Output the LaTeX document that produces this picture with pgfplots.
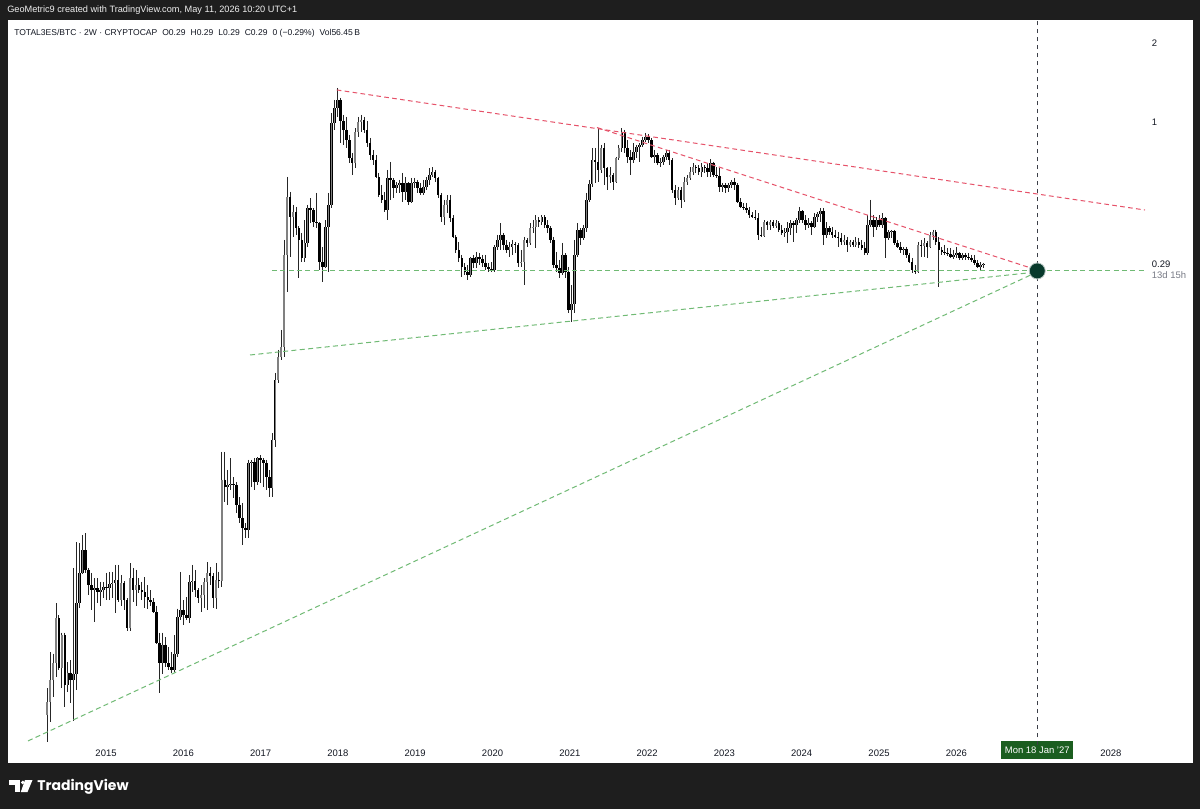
\documentclass[border=0pt]{standalone}
\usepackage{pgfplots}
\pgfplotsset{compat=1.18}
\usepackage{pgfplotstable}
\usepackage{fontspec}
\setmainfont{Liberation Sans}
\newfontfamily\logofont{Poppins}
\definecolor{bg}{RGB}{30,30,30}
\definecolor{tvtext}{RGB}{19,23,34}
\definecolor{tvgray}{RGB}{120,123,134}
\definecolor{redline}{RGB}{230,82,105}
\definecolor{greenline}{RGB}{112,186,116}
\definecolor{vline}{RGB}{60,63,72}
\definecolor{datebox}{RGB}{27,94,32}
\definecolor{dot}{RGB}{8,58,44}
\definecolor{upgray}{RGB}{128,128,128}

% TOTAL3ES/BTC, 2-week candles from mid-2014 (open high low close)
\pgfplotstableread{
o h l c
0.00570 0.00721 0.00452 0.00639
0.00639 0.00983 0.00536 0.00770
0.00770 0.00974 0.00668 0.00896
0.00896 0.0151 0.00796 0.01325
0.01325 0.0136 0.0084 0.00857
0.00857 0.01169 0.00721 0.0114
0.0114 0.01169 0.00609 0.0074
0.0074 0.00904 0.00698 0.00825
0.00825 0.0092 0.00633 0.0077
0.0077 0.02055 0.0054 0.00818
0.00818 0.02574 0.0071 0.0151
0.0151 0.02552 0.01454 0.01968
0.01968 0.0274 0.0195 0.0240
0.0240 0.02786 0.01968 0.0202
0.0202 0.02055 0.0162 0.0177
0.0177 0.01968 0.0142 0.0169
0.0169 0.0188 0.01277 0.01724
0.01724 0.0188 0.0151 0.01661
0.01661 0.01818 0.0148 0.0169
0.0169 0.01818 0.01578 0.01739
0.01739 0.01968 0.0155 0.01724
0.01724 0.01985 0.0155 0.01786
0.01786 0.01985 0.01578 0.01802
0.01802 0.0211 0.01383 0.0185
0.0185 0.0211 0.01523 0.0155
0.0155 0.0193 0.0148 0.01802
0.01802 0.0183 0.0142 0.0155
0.0155 0.01578 0.0119 0.01218
0.01218 0.02143 0.0119 0.0188
0.0188 0.02055 0.01523 0.0169
0.0169 0.0202 0.0148 0.0177
0.0177 0.0188 0.01646 0.0169
0.0169 0.01818 0.0155 0.01661
0.01661 0.01896 0.01454 0.01592
0.01592 0.0177 0.01442 0.0155
0.0155 0.0169 0.0148 0.01523
0.01523 0.01578 0.01383 0.01395
0.01395 0.0148 0.01062 0.01071
0.01071 0.01169 0.00692 0.00896
0.00896 0.01169 0.00818 0.0105
0.0105 0.0112 0.00865 0.00896
0.00896 0.01032 0.0084 0.00865
0.00865 0.00983 0.00825 0.0084
0.0084 0.0114 0.0083 0.00974
0.00974 0.01442 0.00943 0.01336
0.01336 0.01985 0.0130 0.0142
0.0142 0.0155 0.0125 0.0136
0.0136 0.01592 0.0130 0.01325
0.01325 0.0193 0.01266 0.01818
0.01818 0.0211 0.01661 0.01834
0.01834 0.0202 0.01592 0.0169
0.0169 0.01724 0.0151 0.01578
0.01578 0.0177 0.01395 0.0162
0.0162 0.0188 0.01454 0.01818
0.01818 0.02162 0.0142 0.01968
0.01968 0.02073 0.0177 0.01913
0.01913 0.01968 0.01454 0.01578
0.01578 0.02143 0.01442 0.0185
0.0185 0.0199 0.0172 0.0183
0.0183 0.0565 0.01739 0.0443
0.0443 0.0565 0.03655 0.04166
0.04166 0.0483 0.0356 0.0424
0.0424 0.05358 0.0406 0.04278
0.04278 0.0454 0.0378 0.0424
0.0424 0.04353 0.03322 0.0356
0.0356 0.03813 0.03039 0.03176
0.03176 0.03624 0.0251 0.02913
0.02913 0.03039 0.02669 0.0286
0.0286 0.0527 0.02669 0.05134
0.05134 0.0527 0.04166 0.05178
0.05178 0.05358 0.0406 0.04353
0.04353 0.05404 0.0425 0.05358
0.05358 0.0550 0.04315 0.0527
0.0527 0.05358 0.04166 0.05134
0.05134 0.0527 0.0406 0.0454
0.0454 0.0483 0.03813 0.0413
0.0413 0.06663 0.03813 0.0627
0.0627 0.1125 0.05896 0.1059
0.1059 0.1375 0.1032 0.1293
0.1293 0.164 0.126 0.1411
0.1411 0.359 0.1293 0.315
0.315 0.622 0.228 0.5218
0.5218 0.5453 0.3095 0.4382
0.4382 0.487 0.3685 0.4579
0.4579 0.4785 0.375 0.3984
0.3984 0.405 0.2572 0.359
0.359 0.3818 0.2958 0.3068
0.3068 0.427 0.2958 0.3497
0.3497 0.487 0.338 0.4744
0.4744 0.5172 0.4159 0.466
0.466 0.475 0.4019 0.4196
0.4196 0.5406 0.3984 0.4159
0.4159 0.4196 0.276 0.2958
0.2958 0.338 0.2486 0.284
0.284 0.427 0.28 0.4019
0.4019 0.5406 0.2712 0.487
0.487 1.086 0.4744 0.996
0.996 1.217 0.937 1.135
1.135 1.351 1.049 1.217
1.217 1.238 0.8358 1.013
1.013 1.068 0.822 0.937
0.937 1.049 0.8007 0.858
0.858 0.897 0.7023 0.7335
0.7335 0.7666 0.633 0.7023
0.7023 0.9527 0.6721 0.9207
0.9207 1.049 0.8814 1.004
1.004 1.068 0.9207 1.022
1.022 1.049 0.9127 0.937
0.937 1.013 0.8077 0.8358
0.8358 0.8738 0.721 0.753
0.753 0.787 0.690 0.721
0.721 0.753 0.6166 0.622
0.622 0.6439 0.5218 0.531
0.531 0.580 0.4958 0.509
0.509 0.5453 0.4579 0.466
0.466 0.661 0.427 0.6166
0.6166 0.7085 0.509 0.606
0.606 0.615 0.5172 0.565
0.565 0.5958 0.5406 0.580
0.580 0.606 0.5406 0.5903
0.5903 0.6439 0.5003 0.5453
0.5453 0.622 0.509 0.5903
0.5903 0.595 0.487 0.5003
0.5003 0.6166 0.4958 0.5903
0.5903 0.6166 0.565 0.5958
0.5958 0.606 0.5406 0.565
0.565 0.5903 0.531 0.5406
0.5406 0.606 0.531 0.5699
0.5699 0.622 0.555 0.606
0.606 0.6721 0.580 0.633
0.633 0.678 0.622 0.6495
0.6495 0.661 0.5958 0.6166
0.6166 0.622 0.5172 0.531
0.531 0.5406 0.4196 0.4382
0.4382 0.509 0.409 0.487
0.487 0.531 0.4539 0.509
0.509 0.531 0.4196 0.4344
0.4344 0.446 0.3653 0.3685
0.3685 0.375 0.3205 0.329
0.329 0.3528 0.2958 0.3068
0.3068 0.315 0.2594 0.284
0.284 0.2932 0.264 0.2712
0.2712 0.289 0.253 0.264
0.264 0.3095 0.2594 0.3068
0.3068 0.315 0.2815 0.2932
0.2932 0.3233 0.2815 0.3095
0.3095 0.3205 0.289 0.3042
0.3042 0.315 0.284 0.2932
0.2932 0.315 0.276 0.284
0.284 0.2932 0.2712 0.2791
0.2791 0.2958 0.2712 0.276
0.276 0.344 0.2712 0.338
0.338 0.375 0.329 0.359
0.359 0.4159 0.329 0.375
0.375 0.3818 0.329 0.344
0.344 0.359 0.3205 0.329
0.329 0.3528 0.3095 0.338
0.338 0.359 0.315 0.3467
0.3467 0.3528 0.3205 0.344
0.344 0.35 0.284 0.2932
0.2932 0.329 0.284 0.2958
0.2958 0.3685 0.242 0.359
0.359 0.3653 0.338 0.3497
0.3497 0.4159 0.344 0.3984
0.3984 0.427 0.3818 0.4019
0.4019 0.446 0.3351 0.427
0.427 0.4382 0.4019 0.4196
0.4196 0.446 0.409 0.4382
0.4382 0.445 0.3984 0.409
0.409 0.427 0.3818 0.3984
0.3984 0.405 0.3497 0.359
0.359 0.3685 0.2815 0.289
0.289 0.3233 0.2712 0.2815
0.2815 0.301 0.2572 0.2689
0.2689 0.3497 0.264 0.315
0.315 0.32 0.2572 0.2712
0.2712 0.284 0.19 0.195
0.195 0.242 0.1759 0.205
0.205 0.359 0.19 0.315
0.315 0.4159 0.3095 0.392
0.392 0.398 0.344 0.3653
0.3653 0.409 0.359 0.3984
0.3984 0.5406 0.3852 0.509
0.509 0.606 0.50 0.5852
0.5852 0.8007 0.5699 0.721
0.721 0.8007 0.5903 0.7085
0.7085 0.9527 0.5958 0.661
0.661 0.822 0.6439 0.8007
0.8007 0.8358 0.580 0.6721
0.6721 0.678 0.555 0.622
0.622 0.678 0.5903 0.633
0.633 0.6439 0.555 0.5958
0.5958 0.7403 0.5903 0.7335
0.7335 0.822 0.721 0.8007
0.8007 0.9527 0.7733 0.9207
0.9207 0.937 0.7666 0.8007
0.8007 0.858 0.7023 0.7403
0.7403 0.787 0.633 0.721
0.721 0.8358 0.7023 0.7733
0.7733 0.822 0.7335 0.8077
0.8077 0.8358 0.7085 0.822
0.822 0.8814 0.8077 0.858
0.858 0.9127 0.8431 0.8814
0.8814 0.9048 0.8358 0.858
0.858 0.8738 0.7335 0.7403
0.7403 0.787 0.7023 0.753
0.753 0.7666 0.690 0.7023
0.7023 0.7335 0.678 0.7085
0.7085 0.753 0.690 0.7403
0.7403 0.787 0.721 0.7666
0.7666 0.787 0.690 0.721
0.721 0.7335 0.5406 0.555
0.555 0.580 0.487 0.5172
0.5172 0.5699 0.509 0.555
0.555 0.5699 0.4744 0.509
0.509 0.622 0.5003 0.5958
0.5958 0.633 0.580 0.6166
0.6166 0.678 0.606 0.6495
0.6495 0.7023 0.633 0.678
0.678 0.690 0.6439 0.6721
0.6721 0.690 0.633 0.6495
0.6495 0.7023 0.622 0.678
0.678 0.690 0.6439 0.672
0.672 0.7023 0.622 0.6495
0.6495 0.7271 0.622 0.7023
0.7023 0.71 0.622 0.633
0.633 0.678 0.6166 0.628
0.628 0.6721 0.5453 0.5699
0.5699 0.5903 0.5453 0.580
0.580 0.59 0.5406 0.565
0.565 0.5903 0.5453 0.580
0.580 0.606 0.565 0.5958
0.5958 0.6166 0.555 0.580
0.580 0.588 0.4958 0.5003
0.5003 0.5172 0.4744 0.4785
0.4785 0.4958 0.466 0.4744
0.4744 0.4958 0.4539 0.466
0.466 0.4785 0.4344 0.446
0.446 0.4579 0.4344 0.4382
0.4382 0.466 0.427 0.436
0.436 0.4539 0.359 0.375
0.375 0.4019 0.3685 0.372
0.372 0.427 0.3685 0.4196
0.4196 0.425 0.392 0.409
0.409 0.427 0.392 0.4196
0.4196 0.427 0.3984 0.4055
0.4055 0.427 0.3984 0.4159
0.4159 0.423 0.3852 0.392
0.392 0.409 0.375 0.3818
0.3818 0.3984 0.3685 0.3852
0.3852 0.4196 0.3497 0.3984
0.3984 0.427 0.375 0.4159
0.4159 0.423 0.3528 0.409
0.409 0.4344 0.3818 0.427
0.427 0.4785 0.4159 0.4619
0.4619 0.466 0.4159 0.427
0.427 0.446 0.392 0.409
0.409 0.4344 0.3984 0.4159
0.4159 0.423 0.375 0.4019
0.4019 0.4539 0.3984 0.4382
0.4382 0.4579 0.4196 0.45
0.45 0.4744 0.4196 0.4619
0.4619 0.4744 0.344 0.375
0.375 0.4196 0.3653 0.3984
0.3984 0.405 0.375 0.3852
0.3852 0.4019 0.3653 0.375
0.375 0.392 0.3653 0.3685
0.3685 0.3852 0.338 0.3653
0.3653 0.3818 0.344 0.3528
0.3528 0.375 0.344 0.359
0.359 0.3685 0.3233 0.344
0.344 0.359 0.338 0.3528
0.3528 0.359 0.338 0.344
0.344 0.3685 0.338 0.3528
0.3528 0.3653 0.3351 0.344
0.344 0.359 0.329 0.3351
0.3351 0.3528 0.315 0.3205
0.3205 0.446 0.315 0.409
0.409 0.509 0.4019 0.427
0.427 0.446 0.3685 0.4019
0.4019 0.4382 0.392 0.427
0.427 0.446 0.4019 0.409
0.409 0.4539 0.3984 0.4344
0.4344 0.4382 0.3068 0.3653
0.3653 0.392 0.359 0.3852
0.3852 0.392 0.3653 0.388
0.388 0.392 0.344 0.3497
0.3497 0.359 0.3351 0.338
0.338 0.3528 0.3205 0.329
0.329 0.338 0.315 0.332
0.332 0.338 0.3068 0.315
0.315 0.3205 0.2932 0.2958
0.2958 0.3068 0.2689 0.276
0.276 0.289 0.2665 0.2712
0.2712 0.3528 0.2689 0.344
0.344 0.359 0.3095 0.341
0.341 0.3653 0.3095 0.3497
0.3497 0.355 0.3068 0.338
0.338 0.3852 0.3351 0.375
0.375 0.392 0.359 0.3852
0.3852 0.392 0.344 0.3528
0.3528 0.3685 0.2379 0.329
0.329 0.338 0.315 0.3233
0.3233 0.344 0.315 0.3205
0.3205 0.3351 0.3123 0.318
0.318 0.3351 0.3068 0.3095
0.3095 0.329 0.3042 0.315
0.315 0.338 0.3068 0.3205
0.3205 0.3233 0.301 0.3068
0.3068 0.3205 0.301 0.315
0.315 0.3205 0.301 0.3095
0.3095 0.3205 0.301 0.3068
0.3068 0.315 0.2958 0.301
0.301 0.315 0.289 0.2932
0.2932 0.301 0.2815 0.284
0.284 0.2958 0.276 0.289
0.289 0.2932 0.2815 0.29
}\candles

\begin{document}
\begin{tikzpicture}
\begin{scope}[x=0.75pt,y=-0.75pt]
\fill[bg] (0,0) rectangle (1200,809);
\fill[white] (7.5,20) rectangle (1192.5,763);
\node[anchor=west, text=white!88!gray, font=\fontsize{6.9}{8}\selectfont, inner sep=0pt] at (7,10.5) {GeoMetric9 created with TradingView.com, May 11, 2026 10:20 UTC+1};
\node[anchor=west, text=tvtext, font=\fontsize{6.4}{8}\selectfont, inner sep=0pt] at (14,33) {TOTAL3ES/BTC · 2W · CRYPTOCAP\hspace{2pt} O0.29\hspace{2pt} H0.29\hspace{2pt} L0.29\hspace{2pt} C0.29\hspace{2pt} 0 (−0.29\%)\hspace{2pt} Vol56.45\,B};
% TradingView logo
\fill[white] (9,780) rectangle (20,784.5);
\fill[white] (15,780) rectangle (20,792);
\fill[white] (22.8,782.4) circle (1.9);
\fill[white] (25,780) -- (32.5,780) -- (27.5,792) -- (20.8,792) -- cycle;
\node[anchor=west, text=white, font=\logofont\bfseries\fontsize{10.5}{12}\selectfont, inner sep=0pt] at (37,786.5) {TradingView};
\end{scope}

\begin{axis}[
  at={(6pt,-15pt)}, anchor=north west,
  scale only axis, width=852.75pt, height=543.75pt,
  xmin=2013.732, xmax=2028.441,
  ymode=log, ymin=0.004385, ymax=2.444,
  axis line style={draw=none},
  tick style={draw=none},
  major tick length=0pt, minor tick length=0pt,
  xtick={2015,2016,2017,2018,2019,2020,2021,2022,2023,2024,2025,2026,2028},
  xticklabels={2015,2016,2017,2018,2019,2020,2021,2022,2023,2024,2025,2026,2028},
  x tick label style={font=\fontsize{7.1}{8}\selectfont, text=tvtext, anchor=base, yshift=-8.25pt, inner sep=0pt},
  ytick={1,2}, yticklabels={1,2},
  yticklabel pos=right,
  y tick label style={font=\fontsize{7.1}{8}\selectfont, text=tvtext, anchor=west, inner sep=0pt, xshift=5pt},
  extra x ticks={2027.047},
  extra x tick labels={\textcolor{white}{Mon 18 Jan '27}},
  extra x tick style={tick label style={fill=datebox, yshift=1.9pt, minimum width=54pt, minimum height=13.5pt, inner sep=0pt, font=\fontsize{7}{8}\selectfont}},
]
% wicks
\addplot[draw=none, mark=none, forget plot,
  error bars/.cd, y dir=both, y explicit, error mark=none,
  error bar style={draw=black!85, solid, line width=0.6pt}]
  table[x expr={2014.237+\coordindex/26.09}, y=h,
        y error plus expr={0}, y error minus expr={\thisrow{h}-\thisrow{l}}] {\candles};
% bodies (all)
\addplot[draw=none, mark=none, forget plot,
  error bars/.cd, y dir=minus, y explicit, error mark=none,
  error bar style={draw=black, solid, line width=1.9pt}]
  table[x expr={2014.237+\coordindex/26.09}, y expr={max(\thisrow{o},\thisrow{c})},
        y error minus expr={abs(\thisrow{o}-\thisrow{c})}] {\candles};
% up bodies
\addplot[draw=none, mark=none, forget plot,
  error bars/.cd, y dir=minus, y explicit, error mark=none,
  error bar style={draw=upgray, solid, line width=1.0pt}]
  table[x expr={2014.237+\coordindex/26.09}, y=c,
        y error minus expr={\thisrow{c}>\thisrow{o} ? \thisrow{c}-\thisrow{o} : 0}] {\candles};

% trend lines
\addplot[redline, line width=0.75pt, dash pattern=on 3.5pt off 2.5pt] coordinates {(2017.985,1.328) (2028.441,0.466)};
\addplot[redline, line width=0.75pt, dash pattern=on 3.5pt off 2.5pt] coordinates {(2021.352,0.957) (2027.047,0.276)};
\addplot[greenline, line width=0.75pt, dash pattern=on 3.75pt off 2.5pt] coordinates {(2017.147,0.2739) (2028.441,0.2739)};
\addplot[greenline, line width=0.75pt, dash pattern=on 3.75pt off 2.5pt] coordinates {(2016.863,0.1316) (2027.047,0.2715)};
\addplot[greenline, line width=0.75pt, dash pattern=on 3.75pt off 2.5pt] coordinates {(2013.991,0.004543) (2027.047,0.2715)};
\addplot[vline, line width=0.75pt, dash pattern=on 3pt off 3pt] coordinates {(2027.047,0.004385) (2027.047,2.444)};
\addplot[only marks, mark=*, mark size=6pt, mark options={fill=dot, draw=white!70!dot, line width=0.6pt}] coordinates {(2027.047,0.2739)};
\coordinate (p29) at (axis cs:2028.441,0.29);
\end{axis}
\node[anchor=west, inner sep=0pt, xshift=5pt, text=tvtext, font=\fontsize{7.1}{8}\selectfont] at (p29) {0.29};
\node[anchor=west, inner sep=0pt, xshift=5pt, yshift=-8.25pt, text=tvgray, font=\fontsize{7.1}{8}\selectfont] at (p29) {13d 15h};
\end{tikzpicture}
\end{document}
